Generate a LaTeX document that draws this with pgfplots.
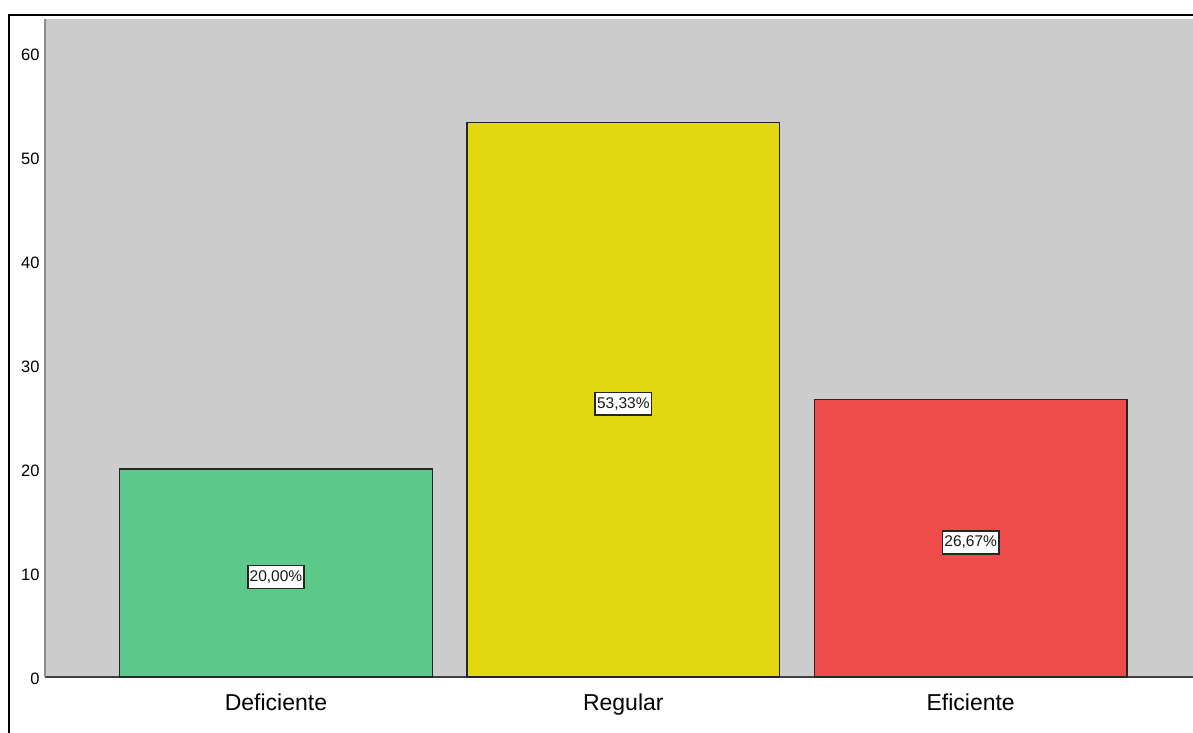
\documentclass[border=0pt]{standalone}
\usepackage{pgfplots}
\pgfplotsset{compat=1.18}
\usepackage{fontspec}
\setmainfont{Liberation Sans}
\definecolor{bgray}{HTML}{CCCCCC}
\definecolor{cgreen}{HTML}{5CC98A}
\definecolor{cyellow}{HTML}{E1D80F}
\definecolor{cred}{HTML}{EE4B4B}
\begin{document}
\begin{tikzpicture}
\useasboundingbox (0,0) rectangle (1193bp,733bp);
\draw[black, line width=2bp] (9bp,0) -- (9bp,718bp) -- (1193bp,718bp);
\begin{axis}[
  at={(45bp,56bp)}, anchor=south west,
  scale only axis, width=1148bp, height=658bp,
  xmin=-0.665, xmax=2.64, ymin=0, ymax=63.3,
  axis background/.style={fill=bgray},
  axis x line=bottom, axis y line=left,
  x axis line style={-, draw=black!75, line width=1.5bp},
  y axis line style={-, draw=black!45, line width=2bp},
  xtick={0,1,2}, xticklabels={Deficiente,Regular,Eficiente},
  ytick={0,10,...,60},
  major tick length=0pt,
  /pgf/number format/assume math mode=true,
  yticklabel style={font=\fontsize{16.5bp}{18bp}\selectfont, xshift=-2bp, yshift=-2bp},
  xticklabel style={font=\fontsize{23bp}{26bp}\selectfont, yshift=-13bp},
  bar width=0.9,
  clip=false,
]
\addplot[ybar, fill=cgreen, draw=black!85, line width=1.3bp] coordinates {(0,20)};
\addplot[ybar, fill=cyellow, draw=black!85, line width=1.3bp] coordinates {(1,53.33)};
\addplot[ybar, fill=cred, draw=black!85, line width=1.3bp] coordinates {(2,26.67)};
\addplot[only marks, mark=none, point meta=explicit symbolic,
  nodes near coords,
  nodes near coords align={center},
  every node near coord/.style={anchor=center, yshift=-4bp, fill=white, draw=black!85, line width=1.6bp,
    inner xsep=2bp, inner ysep=5bp, text=black!90, font=\fontsize{15.5bp}{17bp}\selectfont}]
  coordinates {(0,10)[20,00\%] (1,26.665)[53,33\%] (2,13.335)[26,67\%]};
\end{axis}
\end{tikzpicture}
\end{document}
